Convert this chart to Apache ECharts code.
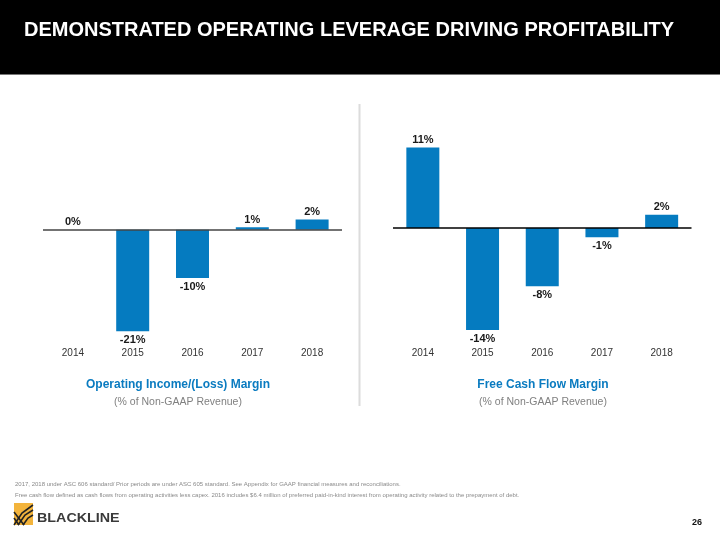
<!DOCTYPE html>
<html>
<head>
<meta charset="utf-8">
<script src="https://cdn.jsdelivr.net/npm/echarts@6/dist/echarts.min.js"></script>
<style>
html,body{margin:0;padding:0;background:#fff;}
#c{width:720px;height:540px;}
</style>
</head>
<body>
<div id="c"></div>
<script>
var years = ['2014', '2015', '2016', '2017', '2018'];
var opMargin = [0, -21, -10, 0.5, 2.1];
var fcfMargin = [11, -14, -8, -1.3, 1.8];
var pageTitle = 'DEMONSTRATED OPERATING LEVERAGE DRIVING PROFITABILITY';
var leftTitle = 'Operating Income/(Loss) Margin';
var rightTitle = 'Free Cash Flow Margin';
var subTitle = '(% of Non-GAAP Revenue)';
var note1 = '2017, 2018 under ASC 606 standard/ Prior periods are under ASC 605 standard. See Appendix for GAAP financial measures and reconciliations.';
var note2 = 'Free cash flow defined as cash flows from operating activities less capex. 2016 includes $6.4 million of preferred paid-in-kind interest from operating activity related to the prepayment of debt.';
var pageNum = '26';

var FONT = 'Liberation Sans, Arial, sans-serif';
var BLUE = '#057bc0';

function barData(vals) {
  return vals.map(function (v) {
    return {
      value: v,
      label: { position: v < 0 ? 'bottom' : 'top', distance: v < 0 ? 3 : 2 }
    };
  });
}

function xAx(gi) {
  return {
    type: 'category', gridIndex: gi, data: years, position: 'bottom',
    axisLine: { show: false, onZero: false }, axisTick: { show: false },
    axisLabel: { color: '#333', fontSize: 10, fontFamily: FONT, margin: 7 }
  };
}

function series(gi, vals, lineColor) {
  return {
    type: 'bar', xAxisIndex: gi, yAxisIndex: gi, barWidth: 33,
    data: barData(vals),
    itemStyle: { color: BLUE },
    label: {
      show: true, color: '#1a1a1a', fontSize: 11, fontWeight: 'bold', fontFamily: FONT,
      formatter: function (p) { return Math.round(p.value) + '%'; }
    },
    markLine: {
      silent: true, symbol: 'none', animation: false,
      data: [{ yAxis: 0 }],
      label: { show: false },
      lineStyle: { color: lineColor, type: 'solid', width: 1.5 }
    },
    z: 2
  };
}

var chart = echarts.init(document.getElementById('c'), null, { renderer: 'canvas' });
chart.setOption({
  animation: false,
  backgroundColor: '#fff',
  grid: [
    { left: 43, top: 133, width: 299, height: 208 },
    { left: 393, top: 133, width: 298.5, height: 208 }
  ],
  xAxis: [xAx(0), xAx(1)],
  yAxis: [
    { type: 'value', gridIndex: 0, min: -23, max: 20, show: false, splitLine: { show: false } },
    { type: 'value', gridIndex: 1, min: -15.5, max: 13, show: false, splitLine: { show: false } }
  ],
  series: [series(0, opMargin, '#444'), series(1, fcfMargin, '#000')],
  graphic: [
    { type: 'rect', shape: { x: 0, y: 0, width: 720, height: 74 }, style: { fill: '#000' }, silent: true },
    { type: 'rect', shape: { x: 0, y: 74, width: 720, height: 1 }, style: { fill: '#777' }, silent: true },
    { type: 'text', x: 24, y: 30, style: { text: pageTitle, fill: '#fff', font: 'bold 20px ' + FONT, textVerticalAlign: 'middle' } },
    { type: 'rect', shape: { x: 358.5, y: 104, width: 2, height: 302 }, style: { fill: '#dcdcdc' }, silent: true },
    { type: 'text', x: 178, y: 385, style: { text: leftTitle, fill: '#0a7bc0', font: 'bold 12px ' + FONT, textAlign: 'center', textVerticalAlign: 'middle' } },
    { type: 'text', x: 178, y: 402, style: { text: subTitle, fill: '#808080', font: '10.5px ' + FONT, textAlign: 'center', textVerticalAlign: 'middle' } },
    { type: 'text', x: 543, y: 385, style: { text: rightTitle, fill: '#0a7bc0', font: 'bold 12px ' + FONT, textAlign: 'center', textVerticalAlign: 'middle' } },
    { type: 'text', x: 543, y: 402, style: { text: subTitle, fill: '#808080', font: '10.5px ' + FONT, textAlign: 'center', textVerticalAlign: 'middle' } },
    { type: 'text', x: 15, y: 484, style: { text: note1, fill: '#8a8a8a', font: '6px ' + FONT, textVerticalAlign: 'middle' } },
    { type: 'text', x: 15, y: 495, style: { text: note2, fill: '#8a8a8a', font: '6px ' + FONT, textVerticalAlign: 'middle' } },
    { type: 'rect', shape: { x: 14, y: 503, width: 19, height: 22 }, style: { fill: '#f3b43c' }, silent: true },
    { type: 'polyline', shape: { points: [[14, 525], [22, 513], [33, 505]] }, style: { stroke: '#222', lineWidth: 1.6, fill: null }, silent: true },
    { type: 'polyline', shape: { points: [[18, 525], [25, 515], [33, 510]] }, style: { stroke: '#222', lineWidth: 1.6, fill: null }, silent: true },
    { type: 'polyline', shape: { points: [[23, 525], [28, 518], [33, 515]] }, style: { stroke: '#222', lineWidth: 1.6, fill: null }, silent: true },
    { type: 'polyline', shape: { points: [[14, 512], [24, 525]] }, style: { stroke: '#222', lineWidth: 1.6, fill: null }, silent: true },
    { type: 'polyline', shape: { points: [[14, 518], [19, 525]] }, style: { stroke: '#222', lineWidth: 1.6, fill: null }, silent: true },
    { type: 'text', x: 37, y: 518, scaleX: 1.1, originX: 0, originY: 0, style: { text: 'BLACKLINE', fill: '#3a3a3a', font: 'bold 13px ' + FONT, textVerticalAlign: 'middle' } },
    { type: 'text', x: 697, y: 523, style: { text: pageNum, fill: '#111', font: 'bold 9px ' + FONT, textAlign: 'center', textVerticalAlign: 'middle' } }
  ]
});
</script>
</body>
</html>
